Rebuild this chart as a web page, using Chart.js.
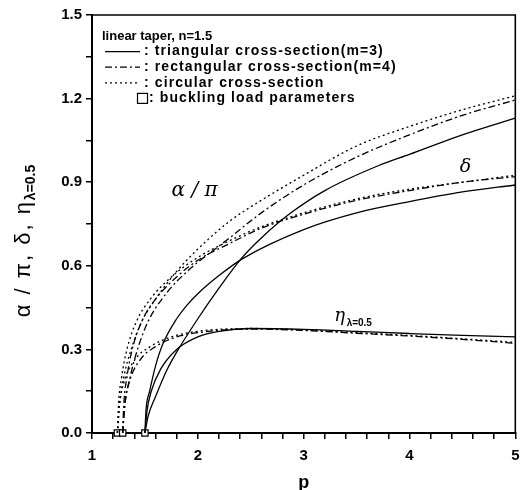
<!DOCTYPE html>
<html>
<head>
<meta charset="utf-8">
<script src="https://cdn.jsdelivr.net/npm/chart.js@4"></script>
<style>
  html, body { margin: 0; padding: 0; background: #fff; }
  #wrap { width: 521px; height: 490px; }
</style>
</head>
<body>
<div id="wrap"><canvas id="grafico" width="521" height="490"></canvas></div>
<script>
// ---- data ----
const xTicks = [1, 2, 3, 4, 5];
const yTicks = ['0.0', '0.3', '0.6', '0.9', '1.2', '1.5'];

// triangular cross-section (m=3), solid
const pTriAlpha = [1.5, 1.53, 1.6, 1.7, 1.8, 2.0, 2.2, 2.42, 2.6, 2.88, 3.2, 3.71, 4.0, 4.5, 5.0];
const triAlpha  = [0.0, 0.06, 0.13, 0.22, 0.29, 0.41, 0.52, 0.63, 0.70, 0.79, 0.87, 0.96, 1.0, 1.07, 1.13];
const pTriDelta = [1.5, 1.51, 1.545, 1.6, 1.67, 1.8, 1.9, 2.0, 2.2, 2.42, 3.0, 3.5, 4.0, 4.5, 5.0];
const triDelta  = [0.0, 0.08, 0.15, 0.24, 0.32, 0.41, 0.46, 0.50, 0.565, 0.625, 0.73, 0.79, 0.83, 0.865, 0.89];
const pTriEta   = [1.5, 1.52, 1.56, 1.65, 1.8, 2.0, 2.2, 2.5, 3.0, 3.5, 4.0, 4.5, 5.0];
const triEta    = [0.0, 0.08, 0.15, 0.23, 0.30, 0.345, 0.365, 0.375, 0.372, 0.365, 0.357, 0.35, 0.345];

// rectangular cross-section (m=4), dash-dot
const pRectAlpha = [1.29, 1.31, 1.36, 1.43, 1.53, 1.7, 1.9, 2.3, 2.6, 3.0, 3.5, 4.0, 4.5, 5.0];
const rectAlpha  = [0.0, 0.1, 0.2, 0.3, 0.4, 0.5, 0.58, 0.70, 0.79, 0.89, 0.99, 1.07, 1.14, 1.195];
const pRectDelta = [1.29, 1.30, 1.33, 1.38, 1.47, 1.6, 1.8, 2.0, 2.3, 2.6, 3.0, 3.5, 4.0, 4.5, 5.0];
const rectDelta  = [0.0, 0.1, 0.2, 0.3, 0.4, 0.48, 0.56, 0.62, 0.68, 0.735, 0.785, 0.835, 0.87, 0.90, 0.92];
const pRectEta   = [1.29, 1.31, 1.35, 1.45, 1.6, 1.8, 2.0, 2.5, 3.0, 3.5, 4.0, 4.5, 5.0];
const rectEta    = [0.0, 0.1, 0.18, 0.26, 0.31, 0.345, 0.36, 0.373, 0.368, 0.358, 0.348, 0.336, 0.322];

// circular cross-section, dotted
const pCircAlpha = [1.24, 1.26, 1.3, 1.37, 1.47, 1.6, 1.8, 2.0, 2.3, 2.6, 3.0, 3.5, 4.0, 4.5, 5.0];
const circAlpha  = [0.0, 0.1, 0.2, 0.3, 0.4, 0.48, 0.58, 0.66, 0.76, 0.835, 0.925, 1.03, 1.10, 1.16, 1.21];
const pCircDelta = [1.24, 1.25, 1.28, 1.33, 1.42, 1.55, 1.75, 2.0, 2.3, 2.6, 3.0, 3.5, 4.0, 4.5, 5.0];
const circDelta  = [0.0, 0.1, 0.2, 0.3, 0.4, 0.48, 0.56, 0.63, 0.69, 0.74, 0.79, 0.84, 0.875, 0.90, 0.925];
const pCircEta   = [1.24, 1.26, 1.3, 1.4, 1.55, 1.75, 2.0, 2.5, 3.0, 3.5, 4.0, 4.5, 5.0];
const circEta    = [0.0, 0.1, 0.18, 0.26, 0.31, 0.345, 0.365, 0.375, 0.37, 0.36, 0.35, 0.338, 0.325];

// buckling load parameters (squares on the axis)
const pBuckling = [1.24, 1.29, 1.5];
const vBuckling = [0, 0, 0];

function pares(xs, ys) {
  return xs.map((x, i) => ({ x: x, y: ys[i] }));
}

const tracoSolido = [];
const tracoPontoTraco = [7, 3, 2, 3];
const tracoPontilhado = [2, 3];

function curva(xs, ys, dash) {
  return {
    data: pares(xs, ys),
    showLine: true,
    borderColor: '#000',
    borderWidth: 1.3,
    borderDash: dash,
    pointRadius: 0,
    fill: false,
    cubicInterpolationMode: 'monotone'
  };
}

const datasets = [
  curva(pTriAlpha, triAlpha, tracoSolido),
  curva(pTriDelta, triDelta, tracoSolido),
  curva(pTriEta, triEta, tracoSolido),
  curva(pRectAlpha, rectAlpha, tracoPontoTraco),
  curva(pRectDelta, rectDelta, tracoPontoTraco),
  curva(pRectEta, rectEta, tracoPontoTraco),
  curva(pCircAlpha, circAlpha, tracoPontilhado),
  curva(pCircDelta, circDelta, tracoPontilhado),
  curva(pCircEta, circEta, tracoPontilhado),
  {
    data: pares(pBuckling, vBuckling),
    showLine: false,
    pointStyle: 'rect',
    pointRadius: 4.5,
    borderColor: '#000',
    backgroundColor: '#fff',
    borderWidth: 1.2,
    clip: false
  }
];

const FONTE = 'Liberation Sans, Arial, sans-serif';

const moldura = {
  id: 'moldura',
  afterDatasetsDraw(chart) {
    const { ctx, chartArea: a, scales } = chart;
    const x = scales.x, y = scales.y;
    ctx.save();
    // frame top & right
    ctx.strokeStyle = '#000';
    ctx.lineWidth = 1.6;
    ctx.beginPath();
    ctx.moveTo(a.left, a.top);
    ctx.lineTo(a.right, a.top);
    ctx.lineTo(a.right, a.bottom);
    ctx.stroke();

    // legend block
    const lx = a.left + 10;
    let ly = a.top + 21;
    const passo = 15.6;
    ctx.fillStyle = '#000';
    ctx.font = 'bold 13px ' + FONTE;
    ctx.textBaseline = 'middle';
    ctx.textAlign = 'left';
    ctx.fillText('linear taper, n=1.5', lx, ly);
    ctx.font = 'bold 14px ' + FONTE;
    ctx.letterSpacing = '1.1px';
    const itens = [
      [tracoSolido, ': triangular cross-section(m=3)'],
      [tracoPontoTraco, ': rectangular cross-section(m=4)'],
      [tracoPontilhado, ': circular cross-section']
    ];
    itens.forEach(item => {
      ly += passo;
      ctx.setLineDash(item[0]);
      ctx.lineWidth = 1.3;
      ctx.beginPath();
      ctx.moveTo(lx + 3, ly);
      ctx.lineTo(lx + 38, ly);
      ctx.stroke();
      ctx.setLineDash([]);
      ctx.fillText(item[1], lx + 42, ly);
    });
    ly += passo;
    ctx.lineWidth = 1.2;
    ctx.strokeRect(lx + 35.5, ly - 5, 10, 10);
    ctx.fillText(': buckling load parameters', lx + 47, ly);
    ctx.letterSpacing = '0px';

    // curve labels
    ctx.font = 'italic 20px DejaVu Serif, serif';
    ctx.textAlign = 'center';
    ctx.fillText('\u03b1 / \u03c0', x.getPixelForValue(1.97), y.getPixelForValue(0.87));
    ctx.font = 'italic 19px DejaVu Serif, serif';
    ctx.fillText('\u03b4', x.getPixelForValue(4.53), y.getPixelForValue(0.955));
    const ex = x.getPixelForValue(3.34), ey = y.getPixelForValue(0.42);
    ctx.font = 'italic 18px DejaVu Serif, serif';
    ctx.fillText('\u03b7', ex, ey);
    ctx.font = 'bold 10px ' + FONTE;
    ctx.textAlign = 'left';
    ctx.fillText('\u03bb=0.5', ex + 7, ey + 7);

    // y axis title, rotated, with subscript
    ctx.translate(24, 241);
    ctx.rotate(-Math.PI / 2);
    const principal = '\u03b1 / \u03c0, \u03b4, \u03b7';
    const sub = '\u03bb=0.5';
    ctx.letterSpacing = '2px';
    ctx.font = '22px ' + FONTE;
    const w1 = ctx.measureText(principal).width;
    ctx.letterSpacing = '0px';
    ctx.font = 'bold 14px ' + FONTE;
    const w2 = ctx.measureText(sub).width;
    const inicio = -(w1 + w2) / 2;
    ctx.letterSpacing = '2px';
    ctx.font = '22px ' + FONTE;
    ctx.fillText(principal, inicio, 0);
    ctx.letterSpacing = '0px';
    ctx.font = 'bold 14px ' + FONTE;
    ctx.fillText(sub, inicio + w1, 7);
    ctx.restore();
  }
};

const ctx = document.getElementById('grafico').getContext('2d');
const grafico = new Chart(ctx, {
  type: 'scatter',
  data: { datasets: datasets },
  plugins: [moldura],
  options: {
    responsive: false,
    animation: false,
    layout: { padding: { top: 15, right: 4, left: 0, bottom: 0 } },
    plugins: { legend: { display: false }, tooltip: { enabled: false } },
    scales: {
      x: {
        type: 'linear',
        min: 1,
        max: 5,
        afterFit(scale) {
          scale.height = 57;
          scale.paddingLeft = 0;
          scale.paddingRight = 0;
        },
        border: { color: '#000', width: 2 },
        grid: { drawOnChartArea: false, color: '#000', tickLength: 6, lineWidth: 1.5 },
        ticks: {
          stepSize: 0.2,
          autoSkip: false,
          maxRotation: 0,
          padding: 8,
          color: '#000',
          font: { family: FONTE, size: 15, weight: 'bold' },
          callback(v) {
            const r = Math.round(v);
            return Math.abs(v - r) < 1e-6 && xTicks.includes(r) ? String(r) : '';
          }
        },
        title: {
          display: true,
          text: 'p',
          color: '#000',
          padding: { top: 4, bottom: -4 },
          font: { family: FONTE, size: 18, weight: 'bold' }
        }
      },
      y: {
        min: 0,
        max: 1.5,
        afterFit(scale) {
          scale.width = 92;
          scale.paddingTop = 0;
          scale.paddingBottom = 0;
        },
        border: { color: '#000', width: 2 },
        grid: { drawOnChartArea: false, color: '#000', tickLength: 6, lineWidth: 1.5 },
        ticks: {
          stepSize: 0.15,
          autoSkip: false,
          padding: 4,
          color: '#000',
          font: { family: FONTE, size: 15, weight: 'bold' },
          callback(v) {
            const k = Math.round(v / 0.3);
            return Math.abs(v - k * 0.3) < 1e-6 ? yTicks[k] : '';
          }
        }
      }
    }
  }
});
</script>
</body>
</html>
